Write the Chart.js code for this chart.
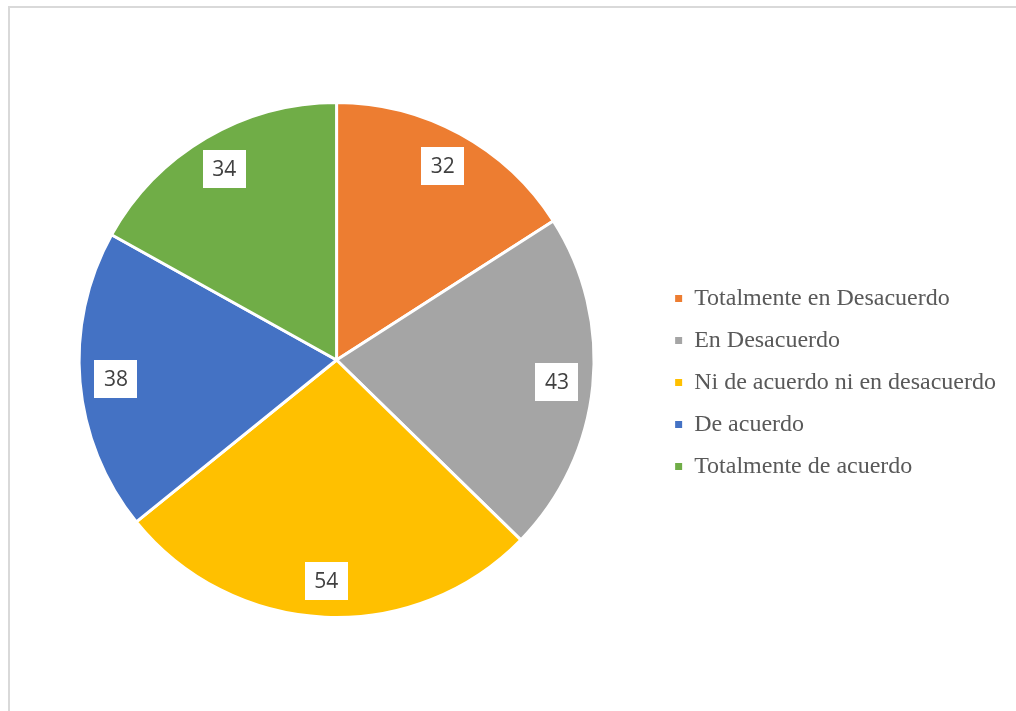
<!DOCTYPE html>
<html>
<head>
<meta charset="utf-8">
<script src="https://cdn.jsdelivr.net/npm/chart.js@4"></script>
<style>
    html, body { margin: 0; padding: 0; background: #fff; }
    #wrap { position: relative; width: 1016px; height: 711px; overflow: hidden; }
    #frame { position: absolute; left: 8px; top: 6px; width: 1100px; height: 800px;
             border-left: 2px solid #d9d9d9; border-top: 2px solid #d9d9d9; pointer-events: none; }
    canvas { position: absolute; left: 0; top: 0; }
</style>
</head>
<body>
<div id="wrap">
    <canvas id="pieChart" width="1016" height="711"></canvas>
    <div id="frame"></div>
</div>
<script>
// Data
const categories = ['Totalmente en Desacuerdo', 'En Desacuerdo', 'Ni de acuerdo ni en desacuerdo', 'De acuerdo', 'Totalmente de acuerdo'];
const counts = [32, 43, 54, 38, 34];
const sliceColors = ['#ED7D31', '#A5A5A5', '#FFC000', '#4472C4', '#70AD47'];

// Value labels in white boxes near the rim
const boxLabels = {
    id: 'boxLabels',
    afterDatasetsDraw(chart) {
        const ctx = chart.ctx;
        const meta = chart.getDatasetMeta(0);
        ctx.save();
        ctx.font = '21px "Open Sans"';
        ctx.textAlign = 'center';
        ctx.textBaseline = 'middle';
        meta.data.forEach((arc, i) => {
            const p = arc.getProps(['x', 'y', 'startAngle', 'endAngle', 'outerRadius'], true);
            const mid = (p.startAngle + p.endAngle) / 2;
            const r = p.outerRadius - 36;
            const cx = p.x + Math.cos(mid) * r;
            const cy = p.y + Math.sin(mid) * r;
            ctx.fillStyle = '#ffffff';
            ctx.fillRect(Math.round(cx - 21.5), Math.round(cy - 19), 43, 38);
            ctx.fillStyle = '#404040';
            ctx.fillText(String(counts[i]), cx, cy + 1);
        });
        ctx.restore();
    }
};

const ctx = document.getElementById('pieChart').getContext('2d');
new Chart(ctx, {
    type: 'pie',
    data: {
        labels: categories,
        datasets: [{
            data: counts,
            backgroundColor: sliceColors,
            borderColor: '#ffffff',
            borderWidth: 3
        }]
    },
    options: {
        responsive: false,
        animation: false,
        layout: { padding: { left: 16, right: 10, top: 101, bottom: 92 } },
        plugins: {
            tooltip: { enabled: false },
            legend: {
                position: 'right',
                title: { display: true, text: '', font: { size: 1, lineHeight: 1 }, padding: { top: 44, bottom: 0 } },
                labels: {
                    boxWidth: 7,
                    boxHeight: 7,
                    padding: 18,
                    color: '#595959',
                    font: { family: '"Liberation Serif", "Times New Roman", serif', size: 24 },
                    generateLabels(chart) {
                        const items = Chart.overrides.pie.plugins.legend.labels.generateLabels(chart);
                        items.forEach(it => { it.lineWidth = 0; it.strokeStyle = it.fillStyle; });
                        return items;
                    }
                }
            }
        }
    },
    plugins: [boxLabels]
});
</script>
</body>
</html>
